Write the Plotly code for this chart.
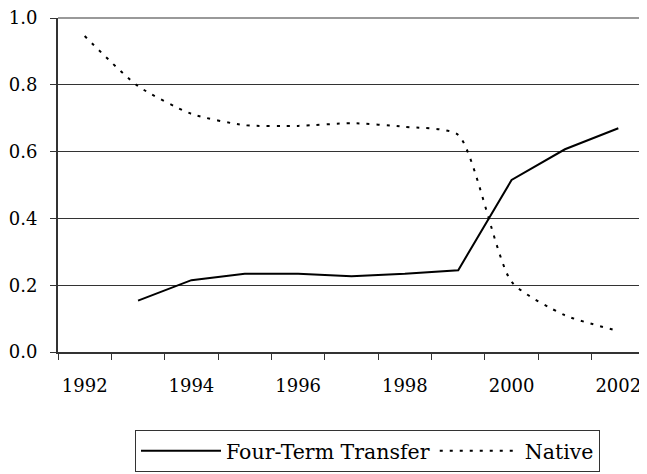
import plotly.graph_objects as go

years = [1992, 1993, 1994, 1995, 1996, 1997, 1998, 1999, 2000, 2001, 2002]
four_term = [None, 0.154, 0.215, 0.234, 0.234, 0.227, 0.234, 0.245, 0.515, 0.607, 0.670]
native = [0.946, 0.796, 0.713, 0.679, 0.677, 0.685, 0.674, 0.650, 0.210, 0.110, 0.063]
x_tick_labels = ["1992", "1994", "1996", "1998", "2000", "2002"]
y_ticks = [0.0, 0.2, 0.4, 0.6, 0.8, 1.0]

FONT = "DejaVu Serif"

fig = go.Figure()
fig.add_trace(go.Scatter(x=years, y=four_term, name="Four-Term Transfer", mode="lines",
                         line=dict(color="black", width=2)))
fig.add_trace(go.Scatter(x=years, y=native, name="Native", mode="lines",
                         line=dict(color="black", width=2, dash="3px,7px", shape="spline", smoothing=0.6)))

# page body has an 8px margin, so the figure is offset by 8px
fig.update_layout(
    width=639, height=466,
    margin=dict(l=50, r=2, t=10, b=122, autoexpand=False),
    paper_bgcolor="white", plot_bgcolor="white",
    font=dict(family=FONT, size=18, color="black"),
    showlegend=True,
    legend=dict(orientation="h", x=(135 - 58) / 587, xanchor="left", y=(352 - 430) / 334, yanchor="top",
                bordercolor="#333333", borderwidth=1, font=dict(size=20.5, family=FONT),
                itemwidth=80, bgcolor="white"),
    xaxis=dict(range=[1991.5, 2002.5], tickmode="array", automargin=False, ticklabeloverflow="allow",
               tickvals=[int(t) for t in x_tick_labels], ticktext=x_tick_labels,
               ticks="", showgrid=False, zeroline=False, showline=True, linecolor="#333333", linewidth=2,
               ticklabelstandoff=16,
               minor=dict(tickmode="array", tickvals=[y - 0.5 for y in years] + [2002.5],
                          ticks="outside", ticklen=6, tickcolor="#333333", tickwidth=1, showgrid=False)),
    yaxis=dict(range=[0, 1], tickmode="array", tickvals=y_ticks, automargin=False, ticklabeloverflow="allow",
               ticktext=[f"{v:.1f}" for v in y_ticks],
               ticks="outside", ticklen=6, tickcolor="#333333", showgrid=True, gridcolor="#333333", gridwidth=1,
               zeroline=False, showline=True, linecolor="#333333", linewidth=2, ticklabelstandoff=9),
)
fig.add_shape(type="line", xref="paper", yref="paper", x0=0, x1=1, y0=1, y1=1,
              line=dict(color="#999999", width=2))
fig.add_shape(type="line", xref="paper", yref="paper", x0=1, x1=1, y0=0, y1=1,
              line=dict(color="#999999", width=2))

fig.write_html("out.html")
